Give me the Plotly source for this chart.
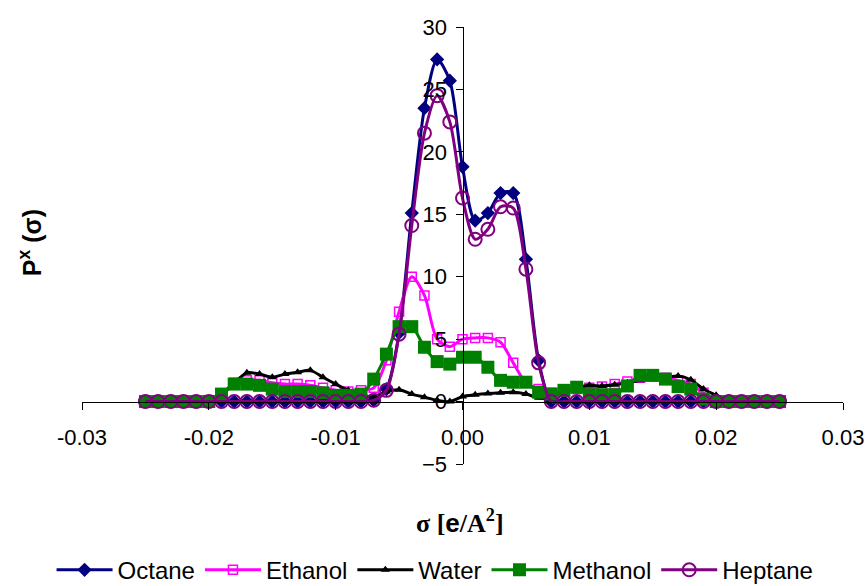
import plotly.graph_objects as go

# sigma grid (e/A^2)
sigma = [round(-0.025 + 0.001 * k, 3) for k in range(51)]

octane = [0]*18 + [0.1, 1.0, 5.5, 15.1, 23.5, 27.4, 25.7, 18.8, 14.5, 15.1, 16.7, 16.7, 11.4, 3.3, 0.0] + [0]*18
heptane = [0]*18 + [0.1, 0.9, 5.4, 14.1, 21.5, 24.5, 22.4, 16.3, 13.0, 13.8, 15.6, 15.5, 10.6, 3.1, 0.0] + [0]*18
ethanol = [0, 0, 0, 0, 0,
           0.1, 0.6, 1.5, 1.7, 1.7, 1.5, 1.4, 1.4, 1.3, 1.1, 0.9, 0.8, 0.9, 1.1, 3.3,
           7.2, 10.0, 8.5, 5.0, 4.4, 5.0, 5.1, 5.1, 4.75, 3.1, 1.5, 1.0, 0.7, 0.8, 1.0,
           1.1, 1.2, 1.4, 1.6, 1.9, 2.0, 1.9, 1.7, 1.4, 0.7, 0.1,
           0, 0, 0, 0, 0]
water = [0, 0, 0, 0, 0,
         0.1, 0.5, 1.5, 2.3, 2.2, 1.95, 2.2, 2.35, 2.5, 1.95, 1.4, 0.9, 0.5, 0.4, 0.8,
         0.95, 0.6, 0.35, 0.1, 0.0, 0.4, 0.55, 0.65, 0.7, 0.75, 0.6, 0.3, 0.3, 0.8, 1.1,
         1.3, 1.25, 1.35, 1.5, 1.7, 1.8, 1.9, 2.05, 1.75, 1.0, 0.5,
         0.1, 0, 0, 0, 0]
methanol = [0]*6 + [0.6, 1.4, 1.4, 1.3, 1.0, 0.8, 0.8, 0.8, 0.7, 0.5, 0.5, 0.6, 1.8, 3.8,
                    6.0, 6.0, 4.35, 3.2, 3.0, 3.55, 3.55, 2.75, 1.7, 1.55, 1.55, 0.75, 0.6, 0.9, 1.15,
                    0.55, 0.55, 0.55, 1.25, 2.1, 2.1, 1.8, 1.2, 1.0, 0.2] + [0]*6

x_ticks = [-0.03, -0.02, -0.01, 0.0, 0.01, 0.02, 0.03]
x_tick_text = ["-0.03", "-0.02", "-0.01", "0.00", "0.01", "0.02", "0.03"]
y_ticks = [-5, 0, 5, 10, 15, 20, 25, 30]

series = [
    ("Octane", octane, "#000080", dict(symbol="diamond", size=11, color="#000080")),
    ("Ethanol", ethanol, "#FF00FF", dict(symbol="square-open", size=9, color="#FF00FF", line=dict(width=1.5, color="#FF00FF"))),
    ("Water", water, "#000000", dict(symbol="triangle-up", size=8, color="#000000")),
    ("Methanol", methanol, "#008000", dict(symbol="square", size=13, color="#008000")),
    ("Heptane", heptane, "#800080", dict(symbol="circle-open", size=13, color="#800080", line=dict(width=2, color="#800080"))),
]

fig = go.Figure()
for name, vals, col, mk in series:
    fig.add_trace(go.Scatter(
        x=sigma, y=vals, name=name, mode="lines+markers",
        line=dict(color=col, width=3, shape="spline", smoothing=0.8),
        marker=mk, cliponaxis=False,
    ))

font_main = "Liberation Sans, Arial, sans-serif"
fig.update_layout(
    width=868, height=586,
    margin=dict(l=82, r=25, t=27, b=121.5, autoexpand=False),
    paper_bgcolor="white", plot_bgcolor="white",
    font=dict(family=font_main, color="black", size=22),
    showlegend=True,
    legend=dict(orientation="h", x=-0.04, xanchor="left", y=-0.243, yanchor="middle",
                font=dict(size=24, family=font_main), itemwidth=56,
                bgcolor="rgba(0,0,0,0)"),
    xaxis=dict(range=[-0.03, 0.03], anchor="free", position=5/35,
               showline=True, linecolor="black", linewidth=1,
               ticks="outside", ticklen=7, tickcolor="black",
               tickvals=x_ticks, ticktext=x_tick_text,
               showgrid=False, zeroline=False, ticklabelstandoff=9,
               tickfont=dict(size=22)),
    yaxis=dict(range=[-5, 30], anchor="free", position=0.5,
               showline=True, linecolor="black", linewidth=1,
               ticks="outside", ticklen=7, tickcolor="black",
               tickvals=y_ticks, showgrid=False, zeroline=False,
               ticklabelstandoff=4, tickfont=dict(size=22)),
    annotations=[
        dict(text="<b>P<sup>x</sup> (σ)</b>", textangle=-90, xref="paper", yref="paper",
             x=-0.068, y=0.506, xanchor="center", yanchor="middle", showarrow=False,
             font=dict(size=25, family=font_main)),
        dict(text="<b>σ [<span style='font-family:Liberation Sans, Arial, sans-serif'>e</span>/A<sup>2</sup>]</b>",
             xref="paper", yref="paper", x=0.497, y=-0.131, xanchor="center", yanchor="middle",
             showarrow=False, font=dict(size=26, family="Liberation Serif, Times New Roman, serif")),
    ],
)

fig.write_html("out.html",
               config={"displayModeBar": False},
               post_script="document.body.style.margin='0';document.body.style.overflow='hidden';")
